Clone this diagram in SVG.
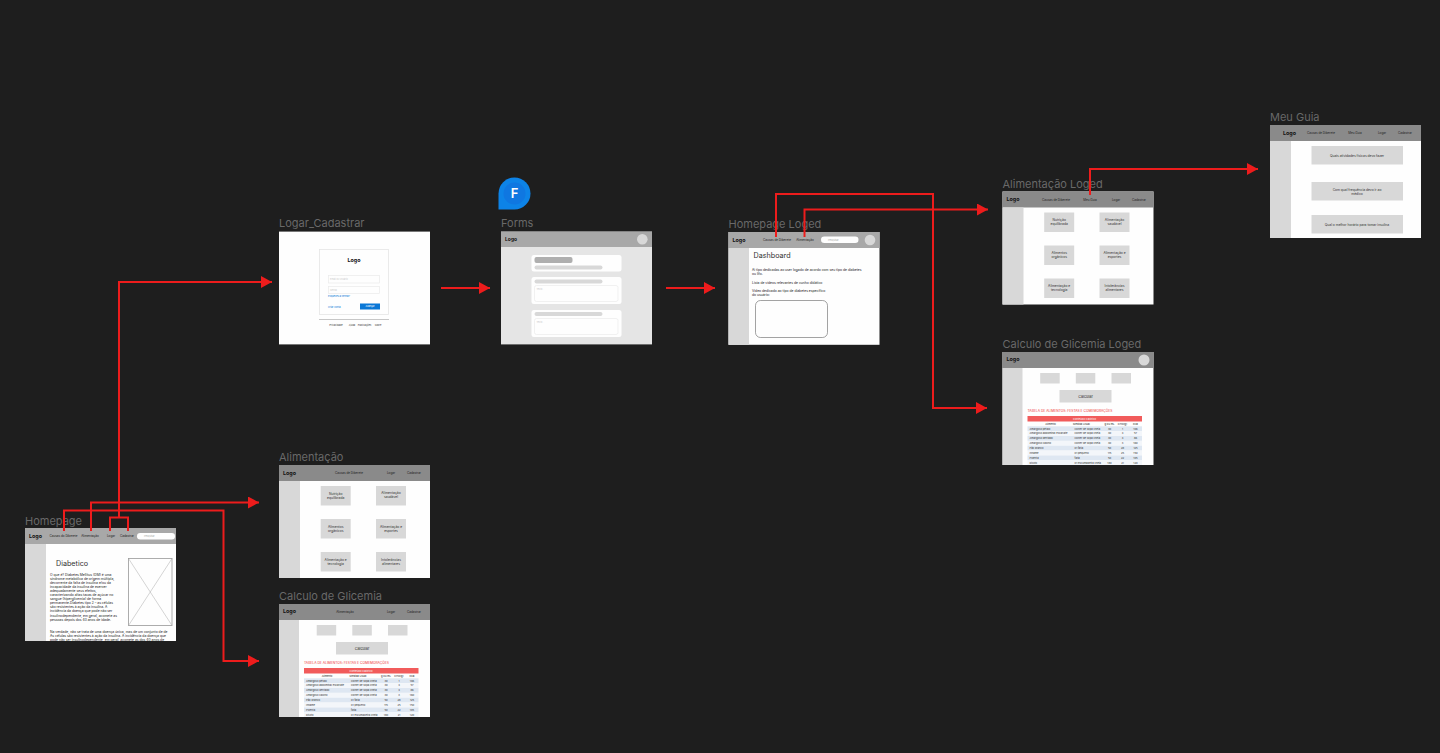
<svg xmlns="http://www.w3.org/2000/svg" width="1440" height="753" viewBox="0 0 1440 753">
<style>
text{font-family:"Inter","Liberation Sans",sans-serif;fill:#333}
g[id]{opacity:.995}
.lbl{font-size:11px;fill:#6a6a6a}
.frame{fill:#fff}
.hl{fill:#a9a9a9}
.hd{fill:#8b8b8b}
.side{fill:#d9d9d9}
.logo{font-size:5.4px;font-weight:700;fill:#111}
.logos{font-size:5px;font-weight:700;fill:#111}
.nav{font-size:3px;text-anchor:middle;fill:#222}
.card{fill:#d9d9d9}
.ct{font-size:3.3px;text-anchor:middle;fill:#333}
.calc{font-size:3.8px;text-anchor:middle;fill:#333}
.body{font-size:3.35px;fill:#222}
.h1{font-size:7.2px;fill:#333}
.pill{fill:#fff}
.ph{font-size:2.3px;fill:#aaa}
.phl{font-size:2.3px;fill:#ccc}
.av{fill:#d9d9d9}
.tt{font-size:3.3px;fill:#f25c5c;font-weight:500}
.red{fill:#f25c5c}
.rh{font-size:2.6px;text-anchor:middle;fill:#fff}
.th{font-size:2.6px;text-anchor:middle;fill:#222}
.td{font-size:2.6px;fill:#333}
.tc{font-size:2.6px;text-anchor:middle;fill:#333}
.r1{fill:#dfe8f3}
.r2{fill:#f4f7fb}
.inp{fill:#fff;stroke:#ececec;stroke-width:.7}
.ff{fill:#fff}
.bar1{fill:#b0b0b0}
.bar2{fill:#d9d9d9}
.lnk{font-size:2.4px;fill:#0a78d7}
.foot{font-size:2.4px;text-anchor:middle;fill:#444}
.btn{font-size:2.4px;text-anchor:middle;fill:#fff}
.fig{font-size:13px;font-weight:600;text-anchor:middle;fill:#fff}
.ln{fill:none;stroke:#ee1c1c;stroke-width:2}
.ah{fill:#ee1c1c;stroke:none}
</style>
<defs>
<marker id="arr" markerUnits="userSpaceOnUse" markerWidth="11" markerHeight="12" refX="11" refY="6" orient="auto"><path class="ah" d="M0 0L11 6L0 12Z"/></marker>
</defs>
<rect width="1440" height="753" fill="#1e1e1e"/>

<g id="homepage">
<text class="lbl" x="25" y="524.500">Homepage</text>
<rect class="frame" x="25" y="528" width="151" height="113"/>
<rect class="hl" x="25" y="528" width="151" height="16"/>
<rect class="side" x="25" y="544" width="21" height="97"/>
<text class="logo" x="29" y="537.800">Logo</text>
<text class="nav" x="63.500" y="536.800">Causas do Diberete</text>
<text class="nav" x="90" y="536.800">Alimentação</text>
<text class="nav" x="111" y="536.800">Logar</text>
<text class="nav" x="127" y="536.800">Cadastrar</text>
<rect class="pill" x="137" y="533" width="38" height="6.400" rx="3.200"/>
<text class="ph" x="144" y="537">Pesquisar</text>
<text class="h1" x="56" y="565.500">Diabetico</text>
<text class="body" x="50" y="575.500">O que é? Diabetes Mellitus (DM) é uma</text>
<text class="body" x="50" y="579.600">síndrome metabólica de origem múltipla,</text>
<text class="body" x="50" y="583.700">decorrente da falta de insulina e/ou da</text>
<text class="body" x="50" y="587.800">incapacidade da insulina de exercer</text>
<text class="body" x="50" y="591.900">adequadamente seus efeitos,</text>
<text class="body" x="50" y="596">caracterizando altas taxas de açúcar no</text>
<text class="body" x="50" y="600.100">sangue (hiperglicemia) de forma</text>
<text class="body" x="50" y="604.200">permanente.Diabetes tipo 2 – as células</text>
<text class="body" x="50" y="608.300">são resistentes à ação da insulina. A</text>
<text class="body" x="50" y="612.400">incidência da doença que pode não ser</text>
<text class="body" x="50" y="616.500">insulinodependente, em geral, acomete as</text>
<text class="body" x="50" y="620.600">pessoas depois dos 40 anos de idade.</text>
<text class="body" x="50" y="632.500">Na verdade, não se trata de uma doença única, mas de um conjunto de de</text>
<text class="body" x="50" y="636.600">As células são resistentes à ação da insulina. A incidência da doença que</text>
<text class="body" x="50" y="640.700">pode não ser insulinodependente, em geral, acomete as dos 40 anos de</text>
<text class="body" x="50" y="644.800">idade.</text>
<rect x="128.500" y="558.500" width="43.500" height="67" fill="#fff" stroke="#999" stroke-width=".8"/>
<path d="M128.500 558.500L172 625.500M172 558.500L128.500 625.500" stroke="#aaa" stroke-width=".5" fill="none"/>
</g>

<g id="logar-cadastrar">
<text class="lbl" x="279" y="227">Logar_Cadastrar</text>
<rect class="frame" x="279" y="231.600" width="151" height="112.800"/>
<rect x="319.500" y="249.500" width="69" height="65" fill="#fff" stroke="#e6e6e6" stroke-width=".8"/>
<text class="logo" x="354" y="262.200" text-anchor="middle">Logo</text>
<rect class="inp" x="328.500" y="275.500" width="51" height="7.500"/>
<text class="phl" x="330" y="280">Email ou usuário</text>
<rect class="inp" x="328.500" y="286.500" width="51" height="7"/>
<text class="phl" x="330" y="290.700">Senha</text>
<text class="lnk" x="328" y="297.200">Esqueceu a senha?</text>
<text class="lnk" x="328" y="307.500">Criar conta</text>
<rect x="360" y="303.500" width="20" height="6" fill="#0a78d7"/>
<text class="btn" x="370" y="307.400">Avançar</text>
<rect x="319" y="319" width="70" height=".8" fill="#bbb"/>
<text class="foot" x="336" y="325.800">Privacidade</text>
<text class="foot" x="352" y="325.800">Ajuda</text>
<text class="foot" x="364.500" y="325.800">Publicações</text>
<text class="foot" x="378" y="325.800">Sobre</text>
</g>

<g id="forms">
<path d="M514.500 177.500a16 16 0 0 1 0 32H498.500V193.500a16 16 0 0 1 16-16Z" fill="#0d84e8"/>
<circle cx="514.500" cy="193.500" r="11" fill="#0f78e2"/>
<text class="fig" x="514.500" y="198.300">F</text>
<text class="lbl" x="501" y="227">Forms</text>
<rect x="501" y="231.600" width="151" height="112.800" fill="#e6e6e6"/>
<rect class="hl" x="501" y="231.600" width="151" height="15.400"/>
<text class="logos" x="505" y="240.800">Logo</text>
<circle class="av" cx="642.300" cy="239.200" r="5.300"/>
<rect class="ff" x="531.500" y="255" width="90" height="16.500" rx="2.500"/>
<rect class="bar1" x="534.500" y="257" width="38" height="6" rx="2"/>
<rect class="bar2" x="534.500" y="265.500" width="68" height="4" rx="2"/>
<rect class="ff" x="531.500" y="277" width="90" height="27" rx="2.500"/>
<rect class="bar2" x="534.500" y="279.500" width="68" height="4" rx="2"/>
<rect class="inp" x="534.500" y="285.500" width="83.500" height="16" rx="2"/>
<text class="phl" x="536.500" y="290">Texto...</text>
<rect class="ff" x="531.500" y="310" width="90" height="27" rx="2.500"/>
<rect class="bar2" x="534.500" y="312" width="68" height="4" rx="2"/>
<rect class="inp" x="534.500" y="318.500" width="83.500" height="16" rx="2"/>
<text class="phl" x="536.500" y="323">Texto...</text>
</g>

<g id="homepage-loged">
<text class="lbl" x="728.500" y="228">Homepage Loged</text>
<rect class="frame" x="728.500" y="232" width="151" height="112.800"/>
<rect class="hl" x="728.500" y="232" width="151" height="16"/>
<rect class="side" x="728.500" y="248" width="20.500" height="96.800"/>
<text class="logo" x="732.500" y="241.800">Logo</text>
<text class="nav" x="777" y="240.800">Causas de Diberete</text>
<text class="nav" x="805" y="240.800">Alimentação</text>
<rect class="pill" x="821" y="236.500" width="37.500" height="6.600" rx="3.300"/>
<text class="ph" x="828" y="240.700">Pesquisar</text>
<circle class="av" cx="870" cy="240" r="5.300"/>
<text class="h1" x="753.500" y="257.500">Dashboard</text>
<text class="body" x="752" y="271.200">Ai tipo dedicadas ao user logado de acordo com seu tipo de diabetes</text>
<text class="body" x="752" y="275.300">ou lifo.</text>
<text class="body" x="752" y="283.500">Lista de vídeos relevantes de cunho didático</text>
<text class="body" x="752" y="291.500">Vídeo dedicado ao tipo de diabetes específico</text>
<text class="body" x="752" y="295.600">do usuário:</text>
<rect x="755.500" y="300.500" width="72" height="37" rx="5" fill="#fff" stroke="#666" stroke-width=".6"/>
</g>

<g id="alimentacao">
<text class="lbl" x="279" y="461">Alimentação</text>
<rect class="frame" x="279" y="465" width="151" height="113"/>
<rect class="hd" x="279" y="465" width="151" height="16"/>
<rect class="side" x="279" y="481" width="21" height="97"/>
<text class="logo" x="283" y="474.800">Logo</text>
<text class="nav" x="349" y="474">Causas de Diberete</text>
<text class="nav" x="391" y="474">Logar</text>
<text class="nav" x="414" y="474">Cadastrar</text>
<rect class="card" x="320.700" y="486" width="30" height="19.500"/>
<rect class="card" x="376" y="486" width="30" height="19.500"/>
<rect class="card" x="320.700" y="519" width="30" height="19.500"/>
<rect class="card" x="376" y="519" width="30" height="19.500"/>
<rect class="card" x="320.700" y="552" width="30" height="19.500"/>
<rect class="card" x="376" y="552" width="30" height="19.500"/>
<text class="ct" x="335.700" y="494.500">Nutrição</text><text class="ct" x="335.700" y="498.600">equilibrada</text>
<text class="ct" x="391" y="494">Alimentação</text><text class="ct" x="391" y="498.100">saudável</text>
<text class="ct" x="335.700" y="527.500">Alimentos</text><text class="ct" x="335.700" y="531.600">orgânicos</text>
<text class="ct" x="391" y="527.500">Alimentação e</text><text class="ct" x="391" y="531.600">esportes</text>
<text class="ct" x="335.700" y="560.500">Alimentação e</text><text class="ct" x="335.700" y="564.600">tecnologia</text>
<text class="ct" x="391" y="560.500">Intolerâncias</text><text class="ct" x="391" y="564.600">alimentares</text>
</g>

<g id="calculo-glicemia">
<text class="lbl" x="279" y="600">Calculo de Glicemia</text>
<rect class="frame" x="279" y="604" width="151" height="113"/>
<rect class="hd" x="279" y="604" width="151" height="16"/>
<rect class="side" x="279" y="620" width="20" height="97"/>
<text class="logo" x="283" y="613">Logo</text>
<text class="nav" x="345" y="613">Alimentação</text>
<text class="nav" x="391" y="613">Logar</text>
<text class="nav" x="414" y="613">Cadastrar</text>
<rect class="card" x="316.700" y="625" width="19.500" height="10.500"/>
<rect class="card" x="352.300" y="625" width="19.500" height="10.500"/>
<rect class="card" x="388" y="625" width="19.500" height="10.500"/>
<rect class="card" x="336" y="642" width="52" height="12.500"/>
<text class="calc" x="362" y="650">Calcular</text>
<text class="tt" x="304" y="664">TABELA DE ALIMENTOS: FESTAS E COMEMORAÇÕES</text>
<rect class="red" x="304" y="668" width="114.500" height="5.500"/>
<text class="rh" x="361" y="671.800">Conteúdo Calórico</text>
<text class="th" x="327" y="676.500">Alimento</text><text class="th" x="358" y="676.500">Medida Usual</text><text class="th" x="386" y="676.500">g ou mL</text><text class="th" x="399" y="676.500">CHO(g)</text><text class="th" x="412" y="676.500">kcal</text>
<rect class="r1" x="304" y="678.300" width="114.500" height="4.850"/><rect class="r2" x="304" y="683.150" width="114.500" height="4.850"/><rect class="r1" x="304" y="688" width="114.500" height="4.850"/><rect class="r2" x="304" y="692.850" width="114.500" height="4.850"/><rect class="r1" x="304" y="697.700" width="114.500" height="4.850"/><rect class="r2" x="304" y="702.550" width="114.500" height="4.850"/><rect class="r1" x="304" y="707.400" width="114.500" height="4.850"/><rect class="r2" x="304" y="712.250" width="114.500" height="4.750"/>
<text class="td" x="306" y="681.600">Amargoso pétalo</text><text class="td" x="351" y="681.600">colher de sopa cheia</text><text class="tc" x="386" y="681.600">30</text><text class="tc" x="399" y="681.600">1</text><text class="tc" x="412" y="681.600">106</text>
<text class="td" x="306" y="686.450">Amargoso abdominal escarlate</text><text class="td" x="351" y="686.450">colher de sopa cheia</text><text class="tc" x="386" y="686.450">30</text><text class="tc" x="399" y="686.450">4</text><text class="tc" x="412" y="686.450">57</text>
<text class="td" x="306" y="691.300">Amargoso dentado</text><text class="td" x="351" y="691.300">colher de sopa cheia</text><text class="tc" x="386" y="691.300">30</text><text class="tc" x="399" y="691.300">4</text><text class="tc" x="412" y="691.300">86</text>
<text class="td" x="306" y="696.150">Amargoso caolho</text><text class="td" x="351" y="696.150">colher de sopa cheia</text><text class="tc" x="386" y="696.150">30</text><text class="tc" x="399" y="696.150">3</text><text class="tc" x="412" y="696.150">160</text>
<text class="td" x="306" y="701">Pão branco</text><text class="td" x="351" y="701">01 fatia</text><text class="tc" x="386" y="701">50</text><text class="tc" x="399" y="701">28</text><text class="tc" x="412" y="701">125</text>
<text class="td" x="306" y="705.850">Inhame</text><text class="td" x="351" y="705.850">01 pequeno</text><text class="tc" x="386" y="705.850">115</text><text class="tc" x="399" y="705.850">25</text><text class="tc" x="412" y="705.850">150</text>
<text class="td" x="306" y="710.700">Polenta</text><text class="td" x="351" y="710.700">fatia</text><text class="tc" x="386" y="710.700">50</text><text class="tc" x="399" y="710.700">22</text><text class="tc" x="412" y="710.700">105</text>
<text class="td" x="306" y="715.550">Risoto</text><text class="td" x="351" y="715.550">01 escumadeira cheia</text><text class="tc" x="386" y="715.550">180</text><text class="tc" x="399" y="715.550">21</text><text class="tc" x="412" y="715.550">120</text>
</g>

<g id="alimentacao-loged">
<text class="lbl" x="1002.500" y="187.500">Alimentação Loged</text>
<rect class="frame" x="1002.500" y="191.500" width="151" height="113"/>
<rect class="hd" x="1002.500" y="191.500" width="151" height="16"/>
<rect class="side" x="1002.500" y="207.500" width="21" height="97"/>
<text class="logo" x="1006.500" y="201">Logo</text>
<text class="nav" x="1056" y="200.500">Causas de Diberete</text>
<text class="nav" x="1090" y="200.500">Meu Guia</text>
<text class="nav" x="1116" y="200.500">Logar</text>
<text class="nav" x="1139" y="200.500">Cadastrar</text>
<rect class="card" x="1044.200" y="212.500" width="30" height="19.500"/>
<rect class="card" x="1099.500" y="212.500" width="30" height="19.500"/>
<rect class="card" x="1044.200" y="245.500" width="30" height="19.500"/>
<rect class="card" x="1099.500" y="245.500" width="30" height="19.500"/>
<rect class="card" x="1044.200" y="278.500" width="30" height="19.500"/>
<rect class="card" x="1099.500" y="278.500" width="30" height="19.500"/>
<text class="ct" x="1059.200" y="221">Nutrição</text><text class="ct" x="1059.200" y="225.100">equilibrada</text>
<text class="ct" x="1114.500" y="220.500">Alimentação</text><text class="ct" x="1114.500" y="224.600">saudável</text>
<text class="ct" x="1059.200" y="254">Alimentos</text><text class="ct" x="1059.200" y="258.100">orgânicos</text>
<text class="ct" x="1114.500" y="254">Alimentação e</text><text class="ct" x="1114.500" y="258.100">esportes</text>
<text class="ct" x="1059.200" y="287">Alimentação e</text><text class="ct" x="1059.200" y="291.100">tecnologia</text>
<text class="ct" x="1114.500" y="287">Intolerâncias</text><text class="ct" x="1114.500" y="291.100">alimentares</text>
</g>

<g id="calculo-glicemia-loged">
<text class="lbl" x="1002.500" y="348">Calculo de Glicemia Loged</text>
<rect class="frame" x="1002.500" y="352" width="151" height="113"/>
<rect class="hd" x="1002.500" y="352" width="151" height="16"/>
<rect class="side" x="1002.500" y="368" width="20" height="97"/>
<text class="logo" x="1006.500" y="360.500">Logo</text>
<circle class="av" cx="1144" cy="360" r="5.500"/>
<g transform="translate(723.500 -252)">
<rect class="card" x="316.700" y="625" width="19.500" height="10.500"/>
<rect class="card" x="352.300" y="625" width="19.500" height="10.500"/>
<rect class="card" x="388" y="625" width="19.500" height="10.500"/>
<rect class="card" x="336" y="642" width="52" height="12.500"/>
<text class="calc" x="362" y="650">Calcular</text>
<text class="tt" x="304" y="664">TABELA DE ALIMENTOS: FESTAS E COMEMORAÇÕES</text>
<rect class="red" x="304" y="668" width="114.500" height="5.500"/>
<text class="rh" x="361" y="671.800">Conteúdo Calórico</text>
<text class="th" x="327" y="676.500">Alimento</text><text class="th" x="358" y="676.500">Medida Usual</text><text class="th" x="386" y="676.500">g ou mL</text><text class="th" x="399" y="676.500">CHO(g)</text><text class="th" x="412" y="676.500">kcal</text>
<rect class="r1" x="304" y="678.300" width="114.500" height="4.850"/><rect class="r2" x="304" y="683.150" width="114.500" height="4.850"/><rect class="r1" x="304" y="688" width="114.500" height="4.850"/><rect class="r2" x="304" y="692.850" width="114.500" height="4.850"/><rect class="r1" x="304" y="697.700" width="114.500" height="4.850"/><rect class="r2" x="304" y="702.550" width="114.500" height="4.850"/><rect class="r1" x="304" y="707.400" width="114.500" height="4.850"/><rect class="r2" x="304" y="712.250" width="114.500" height="4.750"/>
<text class="td" x="306" y="681.600">Amargoso pétalo</text><text class="td" x="351" y="681.600">colher de sopa cheia</text><text class="tc" x="386" y="681.600">30</text><text class="tc" x="399" y="681.600">1</text><text class="tc" x="412" y="681.600">106</text>
<text class="td" x="306" y="686.450">Amargoso abdominal escarlate</text><text class="td" x="351" y="686.450">colher de sopa cheia</text><text class="tc" x="386" y="686.450">30</text><text class="tc" x="399" y="686.450">4</text><text class="tc" x="412" y="686.450">57</text>
<text class="td" x="306" y="691.300">Amargoso dentado</text><text class="td" x="351" y="691.300">colher de sopa cheia</text><text class="tc" x="386" y="691.300">30</text><text class="tc" x="399" y="691.300">4</text><text class="tc" x="412" y="691.300">86</text>
<text class="td" x="306" y="696.150">Amargoso caolho</text><text class="td" x="351" y="696.150">colher de sopa cheia</text><text class="tc" x="386" y="696.150">30</text><text class="tc" x="399" y="696.150">3</text><text class="tc" x="412" y="696.150">160</text>
<text class="td" x="306" y="701">Pão branco</text><text class="td" x="351" y="701">01 fatia</text><text class="tc" x="386" y="701">50</text><text class="tc" x="399" y="701">28</text><text class="tc" x="412" y="701">125</text>
<text class="td" x="306" y="705.850">Inhame</text><text class="td" x="351" y="705.850">01 pequeno</text><text class="tc" x="386" y="705.850">115</text><text class="tc" x="399" y="705.850">25</text><text class="tc" x="412" y="705.850">150</text>
<text class="td" x="306" y="710.700">Polenta</text><text class="td" x="351" y="710.700">fatia</text><text class="tc" x="386" y="710.700">50</text><text class="tc" x="399" y="710.700">22</text><text class="tc" x="412" y="710.700">105</text>
<text class="td" x="306" y="715.550">Risoto</text><text class="td" x="351" y="715.550">01 escumadeira cheia</text><text class="tc" x="386" y="715.550">180</text><text class="tc" x="399" y="715.550">21</text><text class="tc" x="412" y="715.550">120</text>
</g>
</g>

<g id="meu-guia">
<text class="lbl" x="1270" y="121">Meu Guia</text>
<rect class="frame" x="1270" y="125" width="151" height="113"/>
<rect class="hd" x="1270" y="125" width="151" height="16"/>
<rect class="side" x="1270" y="141" width="21" height="97"/>
<text class="logo" x="1283" y="134.800">Logo</text>
<text class="nav" x="1321" y="134">Causas de Diberete</text>
<text class="nav" x="1355" y="134">Meu Guia</text>
<text class="nav" x="1382" y="134">Logar</text>
<text class="nav" x="1405" y="134">Cadastrar</text>
<rect class="card" x="1311.500" y="146" width="91.500" height="18.500"/>
<rect class="card" x="1311.500" y="182" width="91.500" height="18.500"/>
<rect class="card" x="1311.500" y="215" width="91.500" height="18.500"/>
<text class="ct" x="1357" y="156.500">Quais atividades físicas devo fazer</text>
<text class="ct" x="1357" y="190.500">Com qual frequência devo ir ao</text>
<text class="ct" x="1357" y="194.600">médico</text>
<text class="ct" x="1357" y="225.500">Qual o melhor horário para tomar insulina</text>
</g>

<g id="connectors">
<path class="ln" marker-end="url(#arr)" d="M64 531V510.500H223.500V661H259"/>
<path class="ln" marker-end="url(#arr)" d="M91 531V502.500H259"/>
<path class="ln" d="M110 531V517.500H128V531"/>
<path class="ln" marker-end="url(#arr)" d="M119 517.500V282H272"/>
<path class="ln" marker-end="url(#arr)" d="M441 288H490"/>
<path class="ln" marker-end="url(#arr)" d="M666 288H715"/>
<path class="ln" marker-end="url(#arr)" d="M776 237V194H933V408H987"/>
<path class="ln" marker-end="url(#arr)" d="M804.500 237V209.500H988"/>
<path class="ln" marker-end="url(#arr)" d="M1090 195V169H1258"/>
</g>
</svg>
